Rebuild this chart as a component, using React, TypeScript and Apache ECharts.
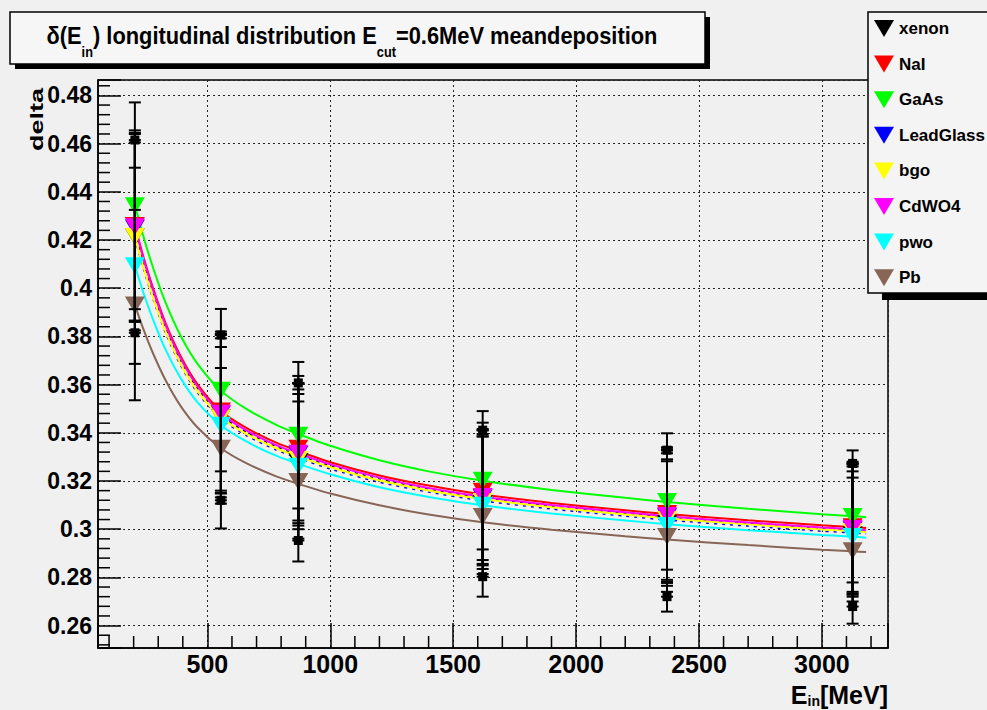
import React, { useEffect, useRef } from 'react';
import * as echarts from 'echarts';

const FONT = '"Liberation Sans", Arial, Helvetica, sans-serif';

// ---- data ----
const energies = [205, 555, 870, 1620, 2370, 3125];
const materials = ['xenon', 'NaI', 'GaAs', 'LeadGlass', 'bgo', 'CdWO4', 'pwo', 'Pb'];
const colors = ['#000000', '#ff0000', '#00ff00', '#0000ff', '#ffff00', '#ff00ff', '#00ffff', '#876657'];

const xenonVal = [0.4215, 0.3463, 0.328, 0.3107, 0.3024, 0.2976];
const naiVal = [0.426, 0.349, 0.3336, 0.3157, 0.3065, 0.301];
const gaasVal = [0.4342, 0.3577, 0.339, 0.3203, 0.3115, 0.3053];
const leadGlassVal = [0.425, 0.3478, 0.331, 0.313, 0.3052, 0.2998];
const bgoVal = [0.4215, 0.3462, 0.329, 0.3115, 0.304, 0.299];
const cdwo4Val = [0.4255, 0.3481, 0.3315, 0.3136, 0.3057, 0.3003];
const pwoVal = [0.4093, 0.3431, 0.3261, 0.3099, 0.3015, 0.297];
const pbVal = [0.393, 0.3336, 0.3198, 0.3053, 0.297, 0.2911];

const xenonErr = [0.04, 0.0343, 0.0327, 0.0304, 0.0304, 0.0297];
const naiErr = [0.0395, 0.033, 0.03, 0.0285, 0.0275, 0.027];
const gaasErr = [0.0429, 0.0337, 0.0304, 0.0287, 0.0283, 0.0274];
const leadGlassErr = [0.039, 0.033, 0.0295, 0.028, 0.0275, 0.027];
const bgoErr = [0.039, 0.033, 0.029, 0.028, 0.0275, 0.027];
const cdwo4Err = [0.039, 0.033, 0.029, 0.028, 0.0275, 0.027];
const pwoErr = [0.0407, 0.0325, 0.03, 0.0285, 0.0275, 0.027];
const pbErr = [0.0395, 0.0333, 0.0332, 0.0333, 0.0312, 0.0303];

// fitted curves
const curveE = [205, 240, 280, 330, 390, 460, 555, 660, 780, 870, 1000, 1200, 1400, 1620, 1900, 2200, 2370, 2700, 3000, 3125, 3180];
const xenonFit = [0.4235, 0.4105, 0.3975, 0.3834, 0.37, 0.3583, 0.3473, 0.3402, 0.3343, 0.3308, 0.3263, 0.3208, 0.3166, 0.313, 0.3096, 0.3066, 0.305, 0.3024, 0.3003, 0.2996, 0.2992];
const naiFit = [0.426, 0.4129, 0.3997, 0.3855, 0.372, 0.3601, 0.349, 0.3419, 0.3359, 0.3324, 0.3278, 0.3223, 0.3181, 0.3144, 0.3109, 0.3079, 0.3063, 0.3037, 0.3016, 0.3009, 0.3005];
const gaasFit = [0.4345, 0.4214, 0.4082, 0.394, 0.3805, 0.3686, 0.3575, 0.3498, 0.3433, 0.3395, 0.3346, 0.3286, 0.324, 0.3201, 0.3163, 0.313, 0.3113, 0.3085, 0.3062, 0.3054, 0.305];
const leadGlassFit = [0.4208, 0.408, 0.3952, 0.3814, 0.3682, 0.3566, 0.3458, 0.3388, 0.3329, 0.3294, 0.325, 0.3195, 0.3154, 0.3118, 0.3084, 0.3054, 0.3038, 0.3013, 0.2992, 0.2985, 0.2981];
const bgoFit = [0.4215, 0.4087, 0.3959, 0.3821, 0.3689, 0.3573, 0.3465, 0.3395, 0.3336, 0.3301, 0.3257, 0.3202, 0.3161, 0.3125, 0.3091, 0.3061, 0.3045, 0.302, 0.2999, 0.2992, 0.2988];
const cdwo4Fit = [0.4255, 0.4123, 0.399, 0.3847, 0.3711, 0.3592, 0.348, 0.3409, 0.3349, 0.3314, 0.3269, 0.3214, 0.3171, 0.3135, 0.31, 0.307, 0.3054, 0.3028, 0.3007, 0.3, 0.2996];
const pwoFit = [0.4093, 0.398, 0.3867, 0.3745, 0.3629, 0.3526, 0.3431, 0.3363, 0.3305, 0.3271, 0.3228, 0.3174, 0.3134, 0.3099, 0.3065, 0.3036, 0.3021, 0.2996, 0.2976, 0.2969, 0.2965];
const pbFit = [0.393, 0.3829, 0.3727, 0.3618, 0.3513, 0.3422, 0.3336, 0.3273, 0.3219, 0.3188, 0.3148, 0.3099, 0.3061, 0.3029, 0.2998, 0.2971, 0.2957, 0.2934, 0.2915, 0.2908, 0.2905];

const xTickLabels = [500, 1000, 1500, 2000, 2500, 3000];
const yTickLabels = [0.26, 0.28, 0.3, 0.32, 0.34, 0.36, 0.38, 0.4, 0.42, 0.44, 0.46, 0.48];

const values = [xenonVal, naiVal, gaasVal, leadGlassVal, bgoVal, cdwo4Val, pwoVal, pbVal];
const errors = [xenonErr, naiErr, gaasErr, leadGlassErr, bgoErr, cdwo4Err, pwoErr, pbErr];
const fits = [xenonFit, naiFit, gaasFit, leadGlassFit, bgoFit, cdwo4Fit, pwoFit, pbFit];

const X_MIN = 55;
const X_MAX = 3269;
const Y_MIN = 0.2507;
const Y_MAX = 0.4864;

const TRI = 'path://M0,0L20,0L10,17Z';

function buildOption() {
  const xMinor: number[][] = [];
  for (let k = 1; k <= 32; k++) if (k % 5 !== 0) xMinor.push([k * 100, Y_MIN]);
  const yMinor: number[][] = [];
  for (let k = 63; k <= 121; k++) if (k % 5 !== 0) yMinor.push([X_MIN, +(k * 0.004).toFixed(3)]);

  const errData: number[][] = [];
  materials.forEach((m, s) => {
    energies.forEach((e, i) => {
      errData.push([e, values[s][i] - errors[s][i], values[s][i] + errors[s][i], m === 'xenon' ? 1 : 0]);
    });
  });

  // curve draw order: the partly hidden dashed ones first
  const curveOrder = [0, 3, 1, 2, 4, 5, 6, 7];
  const curveSeries = curveOrder.map((s) => ({
    type: 'line',
    name: materials[s] + ' fit',
    data: curveE.map((e, i) => [e, fits[s][i]]),
    smooth: 0.25,
    showSymbol: false,
    symbol: 'none',
    silent: true,
    z: 2,
    lineStyle: {
      color: colors[s],
      width: s === 0 || s === 3 ? 1.6 : 2,
      type: s === 0 || s === 3 ? [3, 5] : 'solid',
    },
  }));

  const markerSeries = materials.map((m, s) => ({
    type: 'scatter',
    name: m,
    data: energies.map((e, i) => [e, values[s][i]]),
    symbol: TRI,
    symbolSize: [20, 17],
    itemStyle: { color: colors[s], opacity: 1 },
    z: 3,
    silent: true,
  }));

  const errorSeries = {
    type: 'custom',
    name: 'errors',
    data: errData,
    z: 4,
    silent: true,
    encode: { x: 0, y: [1, 2] },
    renderItem: (params: any, api: any) => {
      const x = api.value(0);
      const lo = api.coord([x, api.value(1)]);
      const hi = api.coord([x, api.value(2)]);
      const sq = api.value(3);
      const cw = 6;
      const st = { stroke: '#000', lineWidth: 2 };
      const children: any[] = [
        { type: 'line', shape: { x1: lo[0], y1: lo[1], x2: hi[0], y2: hi[1] }, style: st },
        { type: 'line', shape: { x1: lo[0] - cw, y1: lo[1], x2: lo[0] + cw, y2: lo[1] }, style: st },
        { type: 'line', shape: { x1: hi[0] - cw, y1: hi[1], x2: hi[0] + cw, y2: hi[1] }, style: st },
      ];
      if (sq) {
        children.push({ type: 'rect', shape: { x: lo[0] - 4.5, y: lo[1] - 4.5, width: 9, height: 9 }, style: { fill: '#000' } });
        children.push({ type: 'rect', shape: { x: hi[0] - 4.5, y: hi[1] - 4.5, width: 9, height: 9 }, style: { fill: '#000' } });
      }
      return { type: 'group', children };
    },
  };

  const xMinorSeries = {
    type: 'custom',
    name: 'xminor',
    data: xMinor,
    z: 5,
    silent: true,
    clip: false,
    encode: { x: 0, y: 1 },
    renderItem: (params: any, api: any) => {
      const p = api.coord([api.value(0), api.value(1)]);
      return { type: 'line', shape: { x1: p[0], y1: p[1], x2: p[0], y2: p[1] - 12 }, style: { stroke: '#000', lineWidth: 1.5 } };
    },
  };
  const yMinorSeries = {
    type: 'custom',
    name: 'yminor',
    data: yMinor,
    z: 5,
    silent: true,
    clip: false,
    encode: { x: 0, y: 1 },
    renderItem: (params: any, api: any) => {
      const p = api.coord([api.value(0), api.value(1)]);
      return { type: 'line', shape: { x1: p[0], y1: p[1], x2: p[0] + 12, y2: p[1] }, style: { stroke: '#000', lineWidth: 1.5 } };
    },
  };

  const isTick = (v: number, list: number[]) => list.some((t) => Math.abs(t - v) < 1e-6);

  return {
    animation: false,
    backgroundColor: '#f0f0f0',
    grid: {
      left: 98,
      right: 99,
      top: 80,
      bottom: 62,
      show: true,
      borderColor: '#000',
      borderWidth: 1.5,
      backgroundColor: 'transparent',
    },
    xAxis: {
      type: 'value',
      min: X_MIN,
      max: X_MAX,
      splitNumber: 6,
      axisLine: { show: true, lineStyle: { color: '#000', width: 1.5 } },
      axisTick: { show: true, inside: true, length: 25, lineStyle: { color: '#000', width: 1.5 } },
      axisLabel: {
        color: '#000',
        fontSize: 25,
        fontWeight: 'bold',
        fontFamily: FONT,
        margin: 3,
        formatter: (v: number) => (isTick(v, xTickLabels) ? String(v) : ''),
      },
      splitLine: { show: true, lineStyle: { color: '#222', width: 1, type: [2, 3] } },
    },
    yAxis: {
      type: 'value',
      min: Y_MIN,
      max: Y_MAX,
      splitNumber: 12,
      axisLine: { show: true, lineStyle: { color: '#000', width: 1.5 } },
      axisTick: { show: true, inside: true, length: 23, lineStyle: { color: '#000', width: 1.5 } },
      axisLabel: {
        color: '#000',
        fontSize: 23,
        fontWeight: 'bold',
        fontFamily: FONT,
        margin: 6,
        formatter: (v: number) => (isTick(v, yTickLabels) ? String(+v.toFixed(2)) : ''),
      },
      splitLine: { show: true, lineStyle: { color: '#222', width: 1, type: [2, 3] } },
    },
    legend: {
      data: materials.map((m) => ({ name: m, icon: TRI })),
      orient: 'vertical',
      left: 869,
      top: 15,
      itemWidth: 20,
      itemHeight: 18,
      itemGap: 18.6,
      selectedMode: false,
      z: 110,
      textStyle: { color: '#000', fontSize: 17, fontWeight: 'bold', fontFamily: FONT },
    },
    graphic: [
      { type: 'rect', z: 100, shape: { x: 15, y: 17, width: 695, height: 52 }, style: { fill: '#000' } },
      { type: 'rect', z: 100, shape: { x: 10, y: 12, width: 695, height: 52 }, style: { fill: '#f6f6f6', stroke: '#000', lineWidth: 1.5 } },
      {
        type: 'text',
        z: 101,
        x: 352,
        y: 23.5,
        scaleX: 0.91,
        style: {
          text: '{m|δ(E}{s|in}{m|) longitudinal distribution E}{s|cut}{m|=0.6MeV meandeposition}',
          align: 'center',
          verticalAlign: 'top',
          fill: '#000',
          rich: {
            m: { fontSize: 24, fontWeight: 'bold', fontFamily: FONT, verticalAlign: 'top', fill: '#000' },
            s: { fontSize: 14, fontWeight: 'bold', fontFamily: FONT, verticalAlign: 'top', padding: [22, 0, 0, 0], fill: '#000' },
          },
        },
      },
      { type: 'rect', z: 100, shape: { x: 882, y: 19, width: 130, height: 281 }, style: { fill: '#000' } },
      { type: 'rect', z: 100, shape: { x: 868, y: 12, width: 130, height: 281 }, style: { fill: '#f4f4f4', stroke: '#000', lineWidth: 1.5 } },
      {
        type: 'text',
        z: 101,
        x: 888,
        y: 682,
        style: {
          text: '{m|E}{s|in}{m|[MeV]}',
          align: 'right',
          verticalAlign: 'top',
          fill: '#000',
          rich: {
            m: { fontSize: 25, fontWeight: 'bold', fontFamily: FONT, verticalAlign: 'top', fill: '#000' },
            s: { fontSize: 14, fontWeight: 'bold', fontFamily: FONT, verticalAlign: 'top', padding: [12, 0, 0, 0], fill: '#000' },
          },
        },
      },
      {
        type: 'text',
        z: 101,
        x: 46,
        y: 151,
        rotation: Math.PI / 2,
        scaleX: 1.5,
        style: {
          text: 'delta',
          fontSize: 18,
          fontWeight: 'bold',
          fontFamily: FONT,
          align: 'left',
          verticalAlign: 'bottom',
          fill: '#000',
        },
      },
    ],
    series: [...curveSeries, ...markerSeries, errorSeries, xMinorSeries, yMinorSeries],
  };
}

export default function App() {
  const ref = useRef<HTMLDivElement>(null);
  useEffect(() => {
    if (!ref.current) return;
    const chart = echarts.init(ref.current, null, { renderer: 'svg' });
    chart.setOption(buildOption() as any);
    return () => chart.dispose();
  }, []);
  return <div ref={ref} style={{ position: 'fixed', left: 0, top: 0, width: 987, height: 710 }} />;
}
